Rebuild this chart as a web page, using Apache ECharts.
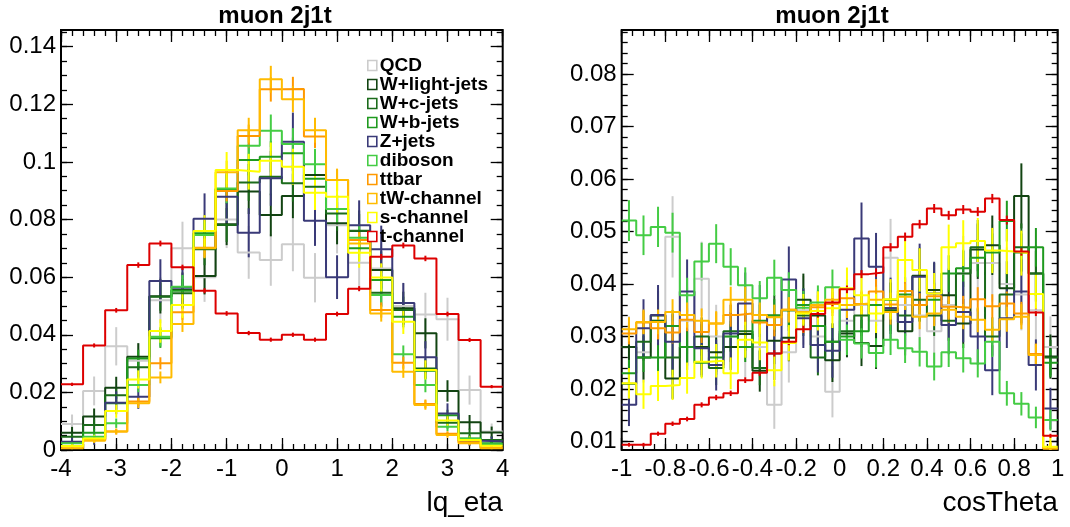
<!DOCTYPE html>
<html><head><meta charset="utf-8">
<script src="https://cdn.jsdelivr.net/npm/echarts@6/dist/echarts.min.js"></script>
<style>html,body{margin:0;padding:0;background:#fff}#c{width:1070px;height:527px}</style>
</head><body><div id="c"></div>
<script>
// ---------------- data ----------------
const seriesNames = ['QCD','W+light-jets','W+c-jets','W+b-jets','Z+jets','diboson','ttbar','tW-channel','s-channel','t-channel'];
const seriesColors = ['#cccccc','#124412','#1b6b1b','#1f9a1f','#3a3a78','#44cc44','#ff9900','#ffbb00','#ffff00','#dd0000'];
// relative statistical error scale per sample (error = scale*sqrt(value))
const errScale = [0.035, 0.026, 0.021, 0.017, 0.031, 0.017, 0.012, 0.013, 0.02, 0.0037];

// lq_eta : 20 bins from -4 to 4
const etaRange = [-4, 4];
const etaBins = 20;
const qcdEta     = [0.009,0.0205,0.036,0.031,0.052,0.070,0.060,0.080,0.0686,0.066,0.0714,0.0598,0.078,0.065,0.063,0.050,0.047,0.0454,0.0208,0.0064];
const wlightEta  = [0.006,0.0116,0.0216,0.0324,0.0534,0.0555,0.0604,0.0784,0.0897,0.0816,0.0882,0.0955,0.0787,0.076,0.0625,0.0492,0.0405,0.0205,0.0096,0.0061];
const wcEta      = [0.0046,0.0087,0.019,0.0287,0.0532,0.0544,0.0697,0.0781,0.0929,0.0949,0.0926,0.0914,0.0821,0.0761,0.0546,0.0486,0.0283,0.0095,0.0058,0.0035];
const wbEta      = [0.0025,0.006,0.0162,0.0318,0.0388,0.0553,0.0752,0.0905,0.1007,0.1018,0.103,0.0942,0.0837,0.070,0.059,0.0463,0.0275,0.0121,0.004,0.0023];
const zjetsEta   = [0.0029,0.0037,0.0164,0.0185,0.0587,0.0563,0.0803,0.0879,0.0754,0.0943,0.107,0.0796,0.060,0.078,0.0697,0.051,0.0322,0.0127,0.0032,0.003];
const dibosonEta = [0.0023,0.0046,0.0093,0.0226,0.0393,0.0567,0.0746,0.0908,0.1056,0.1108,0.1062,0.0992,0.0837,0.0737,0.0538,0.0332,0.0226,0.0081,0.0039,0.002];
const ttbarEta   = [0.0012,0.0035,0.0064,0.0168,0.0301,0.0478,0.0702,0.0899,0.109,0.1252,0.1253,0.1088,0.0937,0.0729,0.0486,0.0303,0.016,0.0056,0.0027,0.0009];
const twEta      = [0.0006,0.0032,0.0064,0.0162,0.0252,0.0437,0.070,0.0964,0.111,0.1287,0.1218,0.111,0.0937,0.0717,0.0474,0.0272,0.0156,0.0052,0.0023,0.0006];
const sChanEta   = [0.0014,0.004,0.0135,0.0245,0.0413,0.0503,0.076,0.0972,0.0966,0.1004,0.0983,0.0893,0.0879,0.0685,0.0599,0.0445,0.0278,0.0102,0.0035,0.0015];
const tChanEta   = [0.0228,0.0363,0.0485,0.0642,0.0717,0.0634,0.0553,0.0474,0.0406,0.0383,0.0400,0.0383,0.0472,0.0560,0.0671,0.0710,0.0665,0.0472,0.0382,0.0220];

// cosTheta : 30 bins from -1 to 1
const cosRange = [-1, 1];
const cosBins = 30;
const qcdCos     = [0.028,0.027,0.033,0.049,0.033,0.041,0.030,0.030,0.028,0.028,0.017,0.027,0.035,0.030,0.0195,0.033,0.036,0.033,0.045,0.036,0.034,0.031,0.036,0.042,0.044,0.044,0.040,0.038,0.035,0.028];
const wlightCos  = [0.028,0.026,0.034,0.022,0.028,0.028,0.027,0.028,0.0305,0.0235,0.0292,0.0298,0.037,0.034,0.0255,0.0306,0.0288,0.0282,0.0354,0.031,0.0416,0.0389,0.0379,0.0325,0.0466,0.0474,0.0392,0.0568,0.042,0.0262];
const wcCos      = [0.021,0.029,0.033,0.026,0.028,0.030,0.024,0.031,0.031,0.024,0.034,0.035,0.034,0.026,0.029,0.031,0.034,0.036,0.035,0.034,0.037,0.034,0.033,0.042,0.047,0.030,0.038,0.047,0.042,0.026];
const wbCos      = [0.023,0.026,0.026,0.032,0.028,0.025,0.026,0.030,0.028,0.033,0.034,0.035,0.036,0.032,0.029,0.030,0.031,0.036,0.037,0.038,0.036,0.037,0.042,0.043,0.045,0.046,0.052,0.046,0.047,0.025];
const zjetsCos   = [0.017,0.0316,0.0341,0.029,0.0386,0.0278,0.0246,0.0306,0.0363,0.0341,0.0268,0.0409,0.0335,0.0284,0.0273,0.0351,0.0487,0.0433,0.0354,0.0328,0.0414,0.0382,0.0322,0.0347,0.030,0.0236,0.0335,0.0386,0.0246,0.0163];
const dibosonCos = [0.0521,0.0493,0.0509,0.0498,0.0379,0.0443,0.0477,0.0433,0.0398,0.0373,0.0412,0.0389,0.0355,0.0365,0.0394,0.0294,0.0287,0.0269,0.0294,0.0278,0.0271,0.0243,0.027,0.0259,0.0249,0.029,0.0192,0.0172,0.0146,0.0141];
const ttbarCos   = [0.0306,0.0327,0.0316,0.0308,0.0332,0.0309,0.0325,0.0341,0.0344,0.0327,0.0322,0.0351,0.0347,0.0356,0.0362,0.0373,0.0362,0.0386,0.0361,0.0387,0.036,0.0377,0.0357,0.0355,0.0371,0.0358,0.0363,0.0344,0.0267,0.0087];
const twCos      = [0.0314,0.0328,0.0328,0.0347,0.0341,0.033,0.0325,0.037,0.037,0.0341,0.0337,0.0351,0.0347,0.036,0.037,0.036,0.0363,0.037,0.0347,0.0376,0.0338,0.0344,0.0351,0.0338,0.0332,0.0313,0.0333,0.0338,0.0265,0.0087];
const sChanCos   = [0.0211,0.019,0.0206,0.0208,0.0221,0.0252,0.0254,0.023,0.0294,0.0289,0.0236,0.0288,0.0344,0.0349,0.0354,0.0392,0.0379,0.0344,0.0371,0.0446,0.0427,0.0382,0.047,0.0478,0.0482,0.0464,0.0462,0.0459,0.0381,0.009];
const tChanCos   = [0.0094,0.0094,0.0115,0.0134,0.0143,0.017,0.0184,0.0192,0.0217,0.0231,0.0268,0.029,0.0314,0.0343,0.0365,0.039,0.0419,0.0422,0.047,0.049,0.0514,0.0544,0.0531,0.0542,0.0538,0.0563,0.0522,0.0462,0.0346,0.0111];

// tick labels
const etaXTicks = [-4,-3,-2,-1,0,1,2,3,4];
const etaYTicks = [0,0.02,0.04,0.06,0.08,0.1,0.12,0.14];
const cosXTicks = [-1,-0.8,-0.6,-0.4,-0.2,0,0.2,0.4,0.6,0.8,1];
const cosYTicks = [0.01,0.02,0.03,0.04,0.05,0.06,0.07,0.08];

const etaData = [qcdEta,wlightEta,wcEta,wbEta,zjetsEta,dibosonEta,ttbarEta,twEta,sChanEta,tChanEta];
const cosData = [qcdCos,wlightCos,wcCos,wbCos,zjetsCos,dibosonCos,ttbarCos,twCos,sChanCos,tChanCos];

// ---------------- chart ----------------
const FONT = '"Liberation Sans", Arial, Helvetica, sans-serif';
const r = (v) => Math.round(v * 1e6) / 1e6;
function seq(a, b, step) { const out = []; const n = Math.round((b - a) / step); for (let i = 0; i <= n; i++) out.push(r(a + i * step)); return out; }
function edgesOf(range, n) { const w = (range[1] - range[0]) / n; const e = []; for (let i = 0; i <= n; i++) e.push(r(range[0] + i * w)); return e; }

const panels = [
  { grid: {left: 61, top: 30, width: 441.7, height: 420}, xr: etaRange, yr: [0, 0.1458], bins: etaBins, data: etaData,
    xMaj: etaXTicks, xMin: seq(-4, 4, 0.2), yMaj: etaYTicks, yMin: seq(0, 0.145, 0.005) },
  { grid: {left: 621.7, top: 30, width: 436, height: 420}, xr: cosRange, yr: [0.0084, 0.0884], bins: cosBins, data: cosData,
    xMaj: cosXTicks, xMin: seq(-1, 1, 0.05), yMaj: cosYTicks, yMin: seq(0.01, 0.088, 0.002) }
];

const xAxes = [], yAxes = [], grids = [], series = [];
function mkAxis(list, g, pos, mm, vals, len, labels, margin) {
  list.push({
    type: 'value', gridIndex: g, position: pos, min: mm[0], max: mm[1],
    axisLine: {show: false, onZero: false}, splitLine: {show: false}, minorTick: {show: false},
    axisTick: {show: true, inside: true, length: len, customValues: vals, lineStyle: {color: '#000', width: 1.3}},
    axisLabel: labels ? {show: true, customValues: labels, fontSize: 24, fontFamily: FONT, color: '#000', margin: margin} : {show: false},
    silent: true
  });
  return list.length - 1;
}

panels.forEach((p, gi) => {
  grids.push(Object.assign({show: true, borderColor: '#000', borderWidth: 2, backgroundColor: 'transparent', containLabel: false, outerBoundsMode: 'none'}, p.grid));
  const xi = mkAxis(xAxes, gi, 'bottom', p.xr, p.xMaj, 12, p.xMaj, 7);
  mkAxis(xAxes, gi, 'bottom', p.xr, p.xMin, 6);
  mkAxis(xAxes, gi, 'top', p.xr, p.xMaj, 12);
  mkAxis(xAxes, gi, 'top', p.xr, p.xMin, 6);
  const yi = mkAxis(yAxes, gi, 'left', p.yr, p.yMaj, 12, p.yMaj, 5);
  mkAxis(yAxes, gi, 'left', p.yr, p.yMin, 6);
  mkAxis(yAxes, gi, 'right', p.yr, p.yMaj, 12);
  mkAxis(yAxes, gi, 'right', p.yr, p.yMin, 6);
  const edges = edgesOf(p.xr, p.bins);
  p.data.forEach((vals, si) => {
    const col = seriesColors[si];
    const pts = vals.map((v, i) => [edges[i], v]);
    pts.push([edges[vals.length], vals[vals.length - 1]]);
    series.push({
      type: 'line', name: seriesNames[si], xAxisIndex: xi, yAxisIndex: yi, step: 'end', data: pts,
      symbol: 'none', showSymbol: false, color: col, itemStyle: {color: col},
      lineStyle: {color: col, width: 2}, animation: false, silent: true, clip: true, z: 2
    });
    const k = errScale[si];
    series.push({
      type: 'custom', name: seriesNames[si] + ' error', xAxisIndex: xi, yAxisIndex: yi,
      data: vals.map((v, i) => [r((edges[i] + edges[i + 1]) / 2), v, k * Math.sqrt(v)]),
      encode: {x: 0, y: 1}, clip: true, silent: true, animation: false, z: 2,
      renderItem: (params, api) => {
        const x = api.value(0), v = api.value(1), e = api.value(2);
        const a = api.coord([x, v - e]), b = api.coord([x, v + e]);
        return {type: 'line', shape: {x1: a[0], y1: a[1], x2: b[0], y2: b[1]}, style: {stroke: col, lineWidth: 2}};
      }
    });
  });
});

const txt = (x, y, text, font, align) => ({type: 'text', x, y, silent: true, z: 100,
  style: {text, font, fill: '#000', align, verticalAlign: 'middle', textAlign: align, textVerticalAlign: 'middle'}});

const option = {
  animation: false,
  backgroundColor: '#fff',
  grid: grids, xAxis: xAxes, yAxis: yAxes, series,
  legend: {
    data: seriesNames.map((n, i) => ({name: n, icon: 'rect',
      itemStyle: {color: '#ffffff', borderColor: seriesColors[i], borderWidth: 1.6}})),
    orient: 'vertical', left: 367, top: 56, padding: 0,
    itemWidth: 9, itemHeight: 10, itemGap: 0, icon: 'rect', selectedMode: false,
    textStyle: {fontSize: 19, fontWeight: 'bold', fontFamily: FONT, color: '#000', lineHeight: 17, padding: [0, 0, 0, -2]}
  },
  graphic: [
    txt(275, 16, 'muon 2j1t', 'bold 24px ' + FONT, 'center'),
    txt(832, 16, 'muon 2j1t', 'bold 24px ' + FONT, 'center'),
    txt(502.7, 503, 'lq_eta', '28px ' + FONT, 'right'),
    txt(1057.7, 503, 'cosTheta', '28px ' + FONT, 'right')
  ]
};
const chart = echarts.init(document.getElementById('c'), null, {renderer: 'canvas'});
chart.setOption(option);
</script></body></html>
